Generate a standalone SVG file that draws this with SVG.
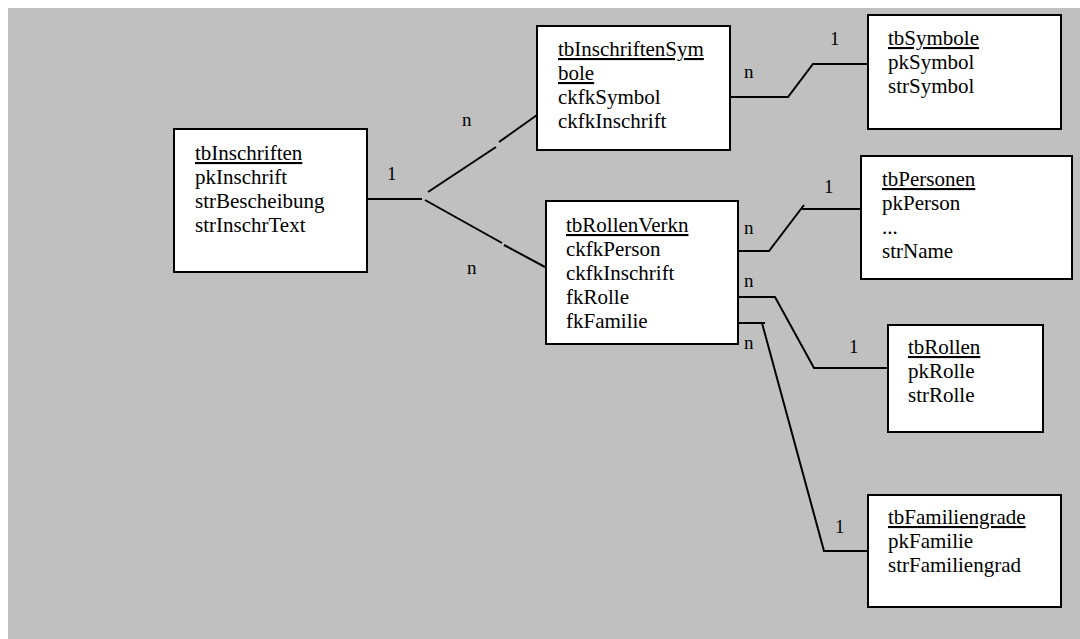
<svg xmlns="http://www.w3.org/2000/svg" width="1080" height="639" viewBox="0 0 1080 639">
<style>
.box{fill:#fff;stroke:#000;stroke-width:2}
text{font-family:"Liberation Serif","Times New Roman",Tinos,"DejaVu Serif",serif;font-size:21px;fill:#000}
.t{text-decoration:underline}
.lbl{font-size:19px}
.c{fill:none;stroke:#000;stroke-width:2}
</style>
<rect x="8" y="8" width="1072" height="631" fill="#c0c0c0"/>
<g id="connectors">
<polyline class="c" points="367,199 422,199"/>
<line class="c" x1="428" y1="192" x2="496" y2="147"/>
<line class="c" x1="499" y1="142" x2="537" y2="115"/>
<line class="c" x1="425" y1="200" x2="502" y2="243"/>
<line class="c" x1="504" y1="245" x2="545" y2="267"/>
<polyline class="c" points="730,97 788,97 813,64 868,64"/>
<polyline class="c" points="738,251 769,251 804,205"/>
<line class="c" x1="802" y1="209" x2="864" y2="209"/>
<polyline class="c" points="738,297 775,297 814,368 892,368"/>
<polyline class="c" points="738,323 765,323"/>
<polyline class="c" points="762,323 824,551 868,551"/>
<text class="lbl" x="387" y="180" font-family="Liberation Serif, serif">1</text>
<text class="lbl" x="462" y="126" font-family="Liberation Serif, serif">n</text>
<text class="lbl" x="467" y="274" font-family="Liberation Serif, serif">n</text>
<text class="lbl" x="744" y="78" font-family="Liberation Serif, serif">n</text>
<text class="lbl" x="830" y="45" font-family="Liberation Serif, serif">1</text>
<text class="lbl" x="744" y="234" font-family="Liberation Serif, serif">n</text>
<text class="lbl" x="824" y="193" font-family="Liberation Serif, serif">1</text>
<text class="lbl" x="744" y="287" font-family="Liberation Serif, serif">n</text>
<text class="lbl" x="849" y="353" font-family="Liberation Serif, serif">1</text>
<text class="lbl" x="744" y="349" font-family="Liberation Serif, serif">n</text>
<text class="lbl" x="835" y="533" font-family="Liberation Serif, serif">1</text>
</g>
<g id="tbInschriften">
<rect class="box" x="174" y="129" width="193" height="143"/>
<text x="195" y="160" class="t">tbInschriften</text>
<text x="195" y="184">pkInschrift</text>
<text x="195" y="208">strBescheibung</text>
<text x="195" y="232">strInschrText</text>
</g>
<g id="tbInschriftenSymbole">
<rect class="box" x="537" y="26" width="193" height="124"/>
<text x="558" y="56" class="t">tbInschriftenSym</text>
<text x="558" y="80" class="t">bole</text>
<text x="558" y="104">ckfkSymbol</text>
<text x="558" y="128">ckfkInschrift</text>
</g>
<g id="tbSymbole">
<rect class="box" x="868" y="15" width="193" height="114"/>
<text x="888" y="45" class="t">tbSymbole</text>
<text x="888" y="69">pkSymbol</text>
<text x="888" y="93">strSymbol</text>
</g>
<g id="tbRollenVerkn">
<rect class="box" x="546" y="201" width="192" height="143"/>
<text x="566" y="232" class="t">tbRollenVerkn</text>
<text x="566" y="256">ckfkPerson</text>
<text x="566" y="280">ckfkInschrift</text>
<text x="566" y="304">fkRolle</text>
<text x="566" y="328">fkFamilie</text>
</g>
<g id="tbPersonen">
<rect class="box" x="861" y="156" width="211" height="123"/>
<text x="882" y="186" class="t">tbPersonen</text>
<text x="882" y="210">pkPerson</text>
<text x="882" y="234">...</text>
<text x="882" y="258">strName</text>
</g>
<g id="tbRollen">
<rect class="box" x="888" y="325" width="155" height="107"/>
<text x="908" y="354" class="t">tbRollen</text>
<text x="908" y="378">pkRolle</text>
<text x="908" y="402">strRolle</text>
</g>
<g id="tbFamiliengrade">
<rect class="box" x="868" y="495" width="193" height="112"/>
<text x="888" y="524" class="t">tbFamiliengrade</text>
<text x="888" y="548">pkFamilie</text>
<text x="888" y="572">strFamiliengrad</text>
</g>
</svg>
